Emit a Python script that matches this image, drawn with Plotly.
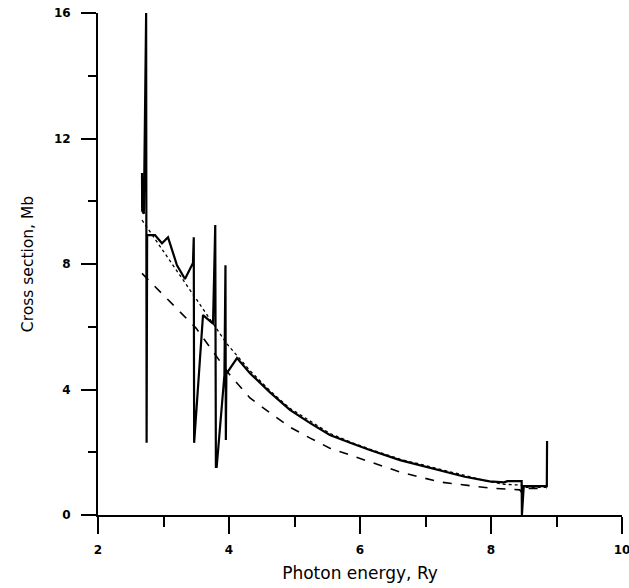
import plotly.graph_objects as go

# Solid (thick) curve: with resonance spikes
solid_x = [2.672, 2.674, 2.70, 2.735, 2.742, 2.750, 2.87, 2.977, 3.069, 3.206, 3.328, 3.450,
           3.462, 3.468, 3.603, 3.756, 3.790, 3.800, 3.812, 3.930, 3.946, 3.952, 3.960, 4.122,
           4.32, 4.63, 4.93, 5.24, 5.54, 5.85, 6.15, 6.61, 7.22, 7.6, 7.98, 8.2, 8.25,
           8.468, 8.472, 8.50, 8.852, 8.856]
solid_y = [10.9, 9.7, 9.6, 16.0, 2.3, 8.92, 8.92, 8.66, 8.85, 7.96, 7.52, 8.03,
           8.85, 2.3, 6.37, 6.10, 9.24, 1.53, 1.53, 4.46, 7.96, 2.39, 4.50, 5.0,
           4.52, 3.90, 3.35, 2.93, 2.55, 2.30, 2.07, 1.75, 1.43, 1.22, 1.07, 1.04, 1.08,
           1.08, 0.0, 0.92, 0.92, 2.36]

# Dotted curve
dot_x = [2.672, 3.0, 3.48, 3.97, 4.32, 4.63, 4.93, 5.24, 5.54, 5.85, 6.15, 6.61,
         7.22, 7.98, 8.2, 8.47, 8.50, 8.855]
dot_y = [9.4, 8.4, 6.95, 5.45, 4.6, 3.95, 3.40, 2.98, 2.60, 2.33, 2.10, 1.78,
         1.45, 1.06, 0.98, 0.95, 0.88, 0.88]

# Dashed curve
dash_x = [2.672, 3.0, 3.5, 4.0, 4.32, 4.63, 4.93, 5.24, 5.54, 5.85, 6.15, 6.61,
          7.22, 7.98, 8.44, 8.47, 8.50, 8.855]
dash_y = [7.7, 7.0, 5.95, 4.5, 3.73, 3.25, 2.80, 2.45, 2.13, 1.91, 1.69, 1.37,
          1.05, 0.86, 0.80, 0.72, 0.85, 0.85]

x_ticks = [2, 4, 6, 8, 10]
y_ticks = [0, 4, 8, 12, 16]

fig = go.Figure()
fig.add_trace(go.Scatter(x=dash_x, y=dash_y, mode="lines",
                         line=dict(color="black", width=1.6, dash="dash")))
fig.add_trace(go.Scatter(x=dot_x, y=dot_y, mode="lines",
                         line=dict(color="black", width=1.3, dash="dot")))
fig.add_trace(go.Scatter(x=solid_x, y=solid_y, mode="lines",
                         line=dict(color="black", width=2.2)))

axis_common = dict(showline=True, linecolor="black", linewidth=2, showgrid=False,
                   zeroline=False, ticks="outside", tickcolor="black", tickwidth=2,
                   tickfont=dict(family="DejaVu Sans", size=12, color="black", weight="bold"),
                   ticklabeloverflow="allow", automargin=False, mirror=False)

fig.update_layout(
    width=629, height=588,
    margin=dict(l=98, r=7, t=13, b=73),
    paper_bgcolor="white", plot_bgcolor="white",
    showlegend=False,
    xaxis=dict(range=[2, 10], tickvals=x_ticks, ticktext=[str(v) for v in x_ticks],
               ticklen=17, ticklabelstandoff=6,
               minor=dict(ticks="outside", ticklen=10, tickwidth=2, tickcolor="black",
                          tickvals=[3, 5, 7, 9]),
               title=dict(text="Photon energy, Ry",
                          font=dict(family="DejaVu Sans", size=17, color="black"),
                          standoff=11),
               **axis_common),
    yaxis=dict(range=[0, 16], tickvals=y_ticks, ticktext=[str(v) for v in y_ticks],
               ticklen=15, ticklabelstandoff=8,
               minor=dict(ticks="outside", ticklen=8, tickwidth=2, tickcolor="black",
                          tickvals=[2, 6, 10, 14]),
               title=dict(text="Cross section, Mb",
                          font=dict(family="DejaVu Sans", size=15.5, color="black"),
                          standoff=16),
               **axis_common),
)

fig.write_html("out.html")
